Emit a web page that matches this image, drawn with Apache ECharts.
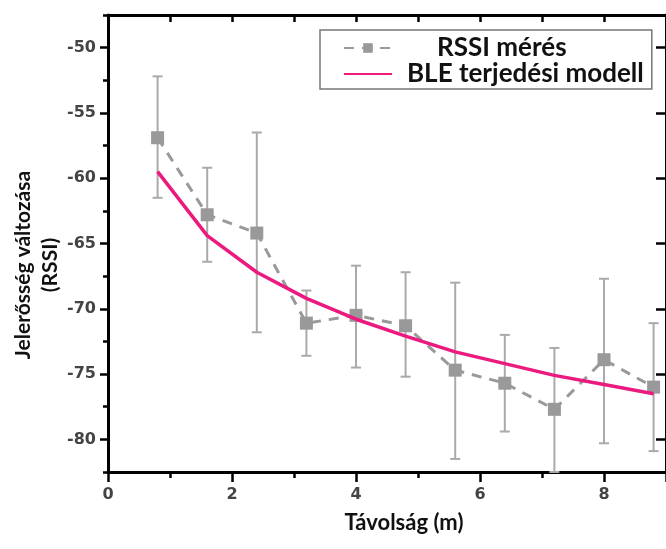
<!DOCTYPE html>
<html>
<head>
<meta charset="utf-8">
<script src="https://cdn.jsdelivr.net/npm/echarts@6/dist/echarts.min.js"></script>
<style>
  html, body { margin: 0; padding: 0; background: #fff; }
  #main { width: 666px; height: 549px; }
</style>
</head>
<body>
<div id="main"></div>
<script>
// distance (m)
var distances = [0.8, 1.6, 2.4, 3.2, 4.0, 4.8, 5.6, 6.4, 7.2, 8.0, 8.8];
// measured RSSI (mean) and error range
var rssiMean = [-56.9, -62.8, -64.2, -71.1, -70.5, -71.3, -74.7, -75.7, -77.7, -73.9, -76.0];
var rssiHigh = [-52.2, -59.2, -56.5, -68.6, -66.7, -67.2, -68.0, -72.0, -73.0, -67.7, -71.1];
var rssiLow = [-61.5, -66.4, -71.8, -73.6, -74.5, -75.2, -81.5, -79.4, -82.5, -80.3, -80.9];
// BLE propagation model
var modelValues = [-59.5, -64.4, -67.2, -69.2, -70.8, -72.1, -73.3, -74.2, -75.1, -75.8, -76.5];

var xLabelTicks = [0, 2, 4, 6, 8];
var yLabelTicks = [-80, -75, -70, -65, -60, -55, -50];

var chartDom = document.getElementById('main');
var myChart = echarts.init(chartDom);

var meanData = distances.map(function (d, i) { return [d, rssiMean[i]]; });
var modelData = distances.map(function (d, i) { return [d, modelValues[i]]; });
var errData = distances.map(function (d, i) { return [d, rssiLow[i], rssiHigh[i]]; });

var axisBlack = { show: true, onZero: false, lineStyle: { color: '#000', width: 3 } };
var tickLine = { color: '#000', width: 2.5 };
var fontFam = 'Lato, "Open Sans", sans-serif';
var tickFont = { color: '#444', fontSize: 16, fontWeight: 'bold', fontFamily: '"DejaVu Sans", sans-serif' };

var option = {
  animation: false,
  backgroundColor: '#fff',
  grid: { left: 108, top: 15, right: -6, bottom: 77 },
  legend: {
    orient: 'vertical',
    left: 320,
    top: 30,
    padding: [5, 8, 2, 23],
    itemGap: 0,
    itemWidth: 48,
    itemHeight: 12,
    borderColor: '#777',
    borderWidth: 1.5,
    borderRadius: 0,
    data: [
      { name: 'RSSI mérés' },
      { name: 'BLE terjedési modell', itemStyle: { opacity: 0 } }
    ],
    formatter: function (name) {
      return name === 'RSSI mérés' ? '{a|' + name + '}' : '{b|' + name + '}';
    },
    textStyle: {
      rich: {
        a: { fontFamily: fontFam, fontWeight: 'bold', fontSize: 26, lineHeight: 26, color: '#111', padding: [0, 0, 0, 40] },
        b: { fontFamily: fontFam, fontWeight: 'bold', fontSize: 26, lineHeight: 26, color: '#111', padding: [0, 0, 0, 10] }
      }
    }
  },
  xAxis: [
    {
      // main bottom axis, long ticks at 0,2,4,...
      type: 'value', position: 'bottom', min: 0, max: 9, interval: 2,
      axisLine: axisBlack,
      axisTick: { show: true, length: 10, lineStyle: tickLine },
      axisLabel: Object.assign({ customValues: xLabelTicks, margin: 15 }, tickFont),
      splitLine: { show: false }
    },
    {
      // short ticks at every integer
      type: 'value', position: 'bottom', min: 0, max: 9, interval: 1,
      axisLine: { show: false, onZero: false },
      axisTick: { show: true, length: 6, lineStyle: tickLine },
      axisLabel: { show: false },
      splitLine: { show: false }
    },
    {
      type: 'value', position: 'top', min: 0, max: 9, interval: 1,
      axisLine: axisBlack,
      axisTick: { show: true, inside: true, length: 7, lineStyle: tickLine },
      axisLabel: { show: false },
      splitLine: { show: false }
    }
  ],
  yAxis: [
    {
      // ticks from min -82.5 every 5 are the short ones, minor ticks fall on -80, -75, ...
      type: 'value', position: 'left', min: -82.5, max: -47.5, interval: 5,
      axisLine: axisBlack,
      axisTick: { show: true, length: 5, lineStyle: tickLine },
      minorTick: { show: true, splitNumber: 2, length: 8, lineStyle: tickLine },
      axisLabel: Object.assign({ customValues: yLabelTicks, margin: 12 }, tickFont),
      splitLine: { show: false },
      minorSplitLine: { show: false }
    },
    {
      type: 'value', position: 'right', min: -82.5, max: -47.5, interval: 5,
      axisLine: axisBlack,
      axisTick: { show: true, inside: true, length: 1, lineStyle: { color: '#fff', width: 0 } },
      minorTick: { show: true, splitNumber: 2, length: 10, lineStyle: tickLine },
      axisLabel: { show: false },
      splitLine: { show: false },
      minorSplitLine: { show: false }
    }
  ],
  graphic: [
    {
      type: 'text',
      x: 37, y: 265,
      rotation: Math.PI / 2,
      style: {
        text: 'Jelerősség változása\n(RSSI)',
        fontFamily: fontFam, fontWeight: 'bold', fontSize: 21, fill: '#111',
        align: 'center', verticalAlign: 'middle', lineHeight: 27
      }
    },
    {
      type: 'text',
      x: 404, y: 523,
      style: {
        text: 'Távolság (m)',
        fontFamily: fontFam, fontWeight: 'bold', fontSize: 22, fill: '#111',
        align: 'center', verticalAlign: 'middle'
      }
    }
  ],
  series: [
    {
      name: 'errorbars',
      type: 'custom',
      xAxisIndex: 0, yAxisIndex: 0,
      z: 1,
      data: errData,
      renderItem: function (params, api) {
        var x = api.value(0);
        var pLo = api.coord([x, api.value(1)]);
        var pHi = api.coord([x, api.value(2)]);
        var w = 5;
        var st = { stroke: '#aaa', lineWidth: 2 };
        return {
          type: 'group',
          children: [
            { type: 'line', shape: { x1: pLo[0], y1: pLo[1], x2: pHi[0], y2: pHi[1] }, style: st },
            { type: 'line', shape: { x1: pHi[0] - w, y1: pHi[1], x2: pHi[0] + w, y2: pHi[1] }, style: st },
            { type: 'line', shape: { x1: pLo[0] - w, y1: pLo[1], x2: pLo[0] + w, y2: pLo[1] }, style: st }
          ]
        };
      }
    },
    {
      name: 'RSSI mérés',
      type: 'line',
      xAxisIndex: 0, yAxisIndex: 0,
      z: 3,
      data: meanData,
      symbol: 'rect',
      symbolSize: 13,
      itemStyle: { color: '#999' },
      lineStyle: { color: '#999', width: 3, type: [10, 8] }
    },
    {
      name: 'BLE terjedési modell',
      type: 'line',
      xAxisIndex: 0, yAxisIndex: 0,
      z: 4,
      data: modelData,
      symbol: 'none',
      itemStyle: { color: '#ec1a7e' },
      lineStyle: { color: '#ec1a7e', width: 3.5 }
    }
  ]
};

myChart.setOption(option);
</script>
</body>
</html>
